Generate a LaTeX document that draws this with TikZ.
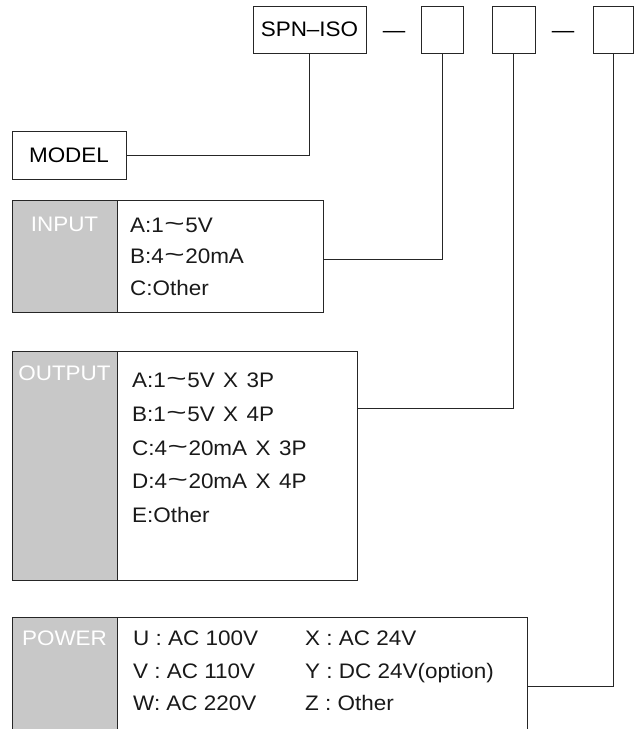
\documentclass[tikz,border=0pt]{standalone}
\usepackage{fontspec}
\usepackage{graphicx}
\setmainfont{Liberation Sans}[FakeStretch=1.07]
\newcommand\tld{\kern0.5pt\raisebox{0.5pt}{\scalebox{1.55}[1.1]{\textasciitilde}}\kern0.5pt}
\newcommand\gap{\hspace{8.5pt}}
\begin{document}
\begin{tikzpicture}[x=1pt,y=-1pt,
  every node/.style={font=\fontsize{21}{24}\selectfont},
  topbox/.style={draw=black!85,line width=0.8pt,minimum height=47pt,inner sep=0pt},
  panel/.style={draw=black!85,line width=0.8pt,anchor=north west,inner sep=0pt},
  graycol/.style={panel,fill=labgray},
  labtxt/.style={text=white,anchor=base,inner sep=0pt},
  item/.style={anchor=base west,inner sep=0pt,text=black!90},
  conn/.style={draw=black!85,line width=0.8pt}]
\definecolor{labgray}{HTML}{C8C8C8}
\useasboundingbox (0,0) rectangle (637,729);
\clip (0,0) rectangle (637,729);
% top code boxes
\node[topbox,minimum width=113pt] (spn) at (309.5,29.5) {SPN\textendash ISO};
\node[inner sep=0pt,anchor=base] (d1) at (394,37.5) {\textemdash};
\node[topbox,minimum width=42pt] (b2) at (442,29.5) {};
\node[topbox,minimum width=43pt] (b3) at (513.5,29.5) {};
\node[inner sep=0pt,anchor=base] (d2) at (563,37.5) {\textemdash};
\node[topbox,minimum width=40pt] (b4) at (613,29.5) {};
% MODEL
\node[topbox,minimum width=114pt,minimum height=48pt] (model) at (69,155) {MODEL};
% INPUT
\node[panel,minimum width=311pt,minimum height=112pt] (input) at (12,200) {};
\node[graycol,minimum width=105pt,minimum height=112pt] (inlab) at (12,200) {};
\node[labtxt] (inl) at (64.5,231) {INPUT};
\node[item] (ia) at (130,232) {A:1\tld 5V};
\node[item] (ib) at (130,263) {B:4\tld 20mA};
\node[item] (ic) at (130,295) {C:Other};
% OUTPUT
\node[panel,minimum width=345pt,minimum height=229pt] (output) at (12,351) {};
\node[graycol,minimum width=105pt,minimum height=229pt] (outlab) at (12,351) {};
\node[labtxt] (outl) at (64.5,380) {OUTPUT};
\node[item] (oa) at (132,387) {A:1\tld 5V\gap X\gap 3P};
\node[item] (ob) at (132,421) {B:1\tld 5V\gap X\gap 4P};
\node[item] (oc) at (132,455) {C:4\tld 20mA\gap X\gap 3P};
\node[item] (od) at (132,488) {D:4\tld 20mA\gap X\gap 4P};
\node[item] (oe) at (132,522) {E:Other};
% POWER
\node[panel,minimum width=515pt,minimum height=140pt] (power) at (12,617) {};
\node[graycol,minimum width=105pt,minimum height=140pt] (powlab) at (12,617) {};
\node[labtxt] (powl) at (64.5,645) {POWER};
\node[item] (pu) at (133,645) {U : AC 100V};
\node[item] (pv) at (133,678) {V : AC 110V};
\node[item] (pw) at (133,710) {W: AC 220V};
\node[item] (px) at (305,645) {X : AC 24V};
\node[item] (py) at (305,678) {Y : DC 24V(option)};
\node[item] (pz) at (305,710) {Z : Other};
% connectors
\draw[conn] (spn.south) |- (model.east);
\draw[conn] (b2.south) |- ([yshift=-3pt]input.east);
\draw[conn] (b3.south) |- ([yshift=-57pt]output.north east);
\draw[conn] (b4.south) |- ([yshift=-69pt]power.north east);
\end{tikzpicture}
\end{document}
